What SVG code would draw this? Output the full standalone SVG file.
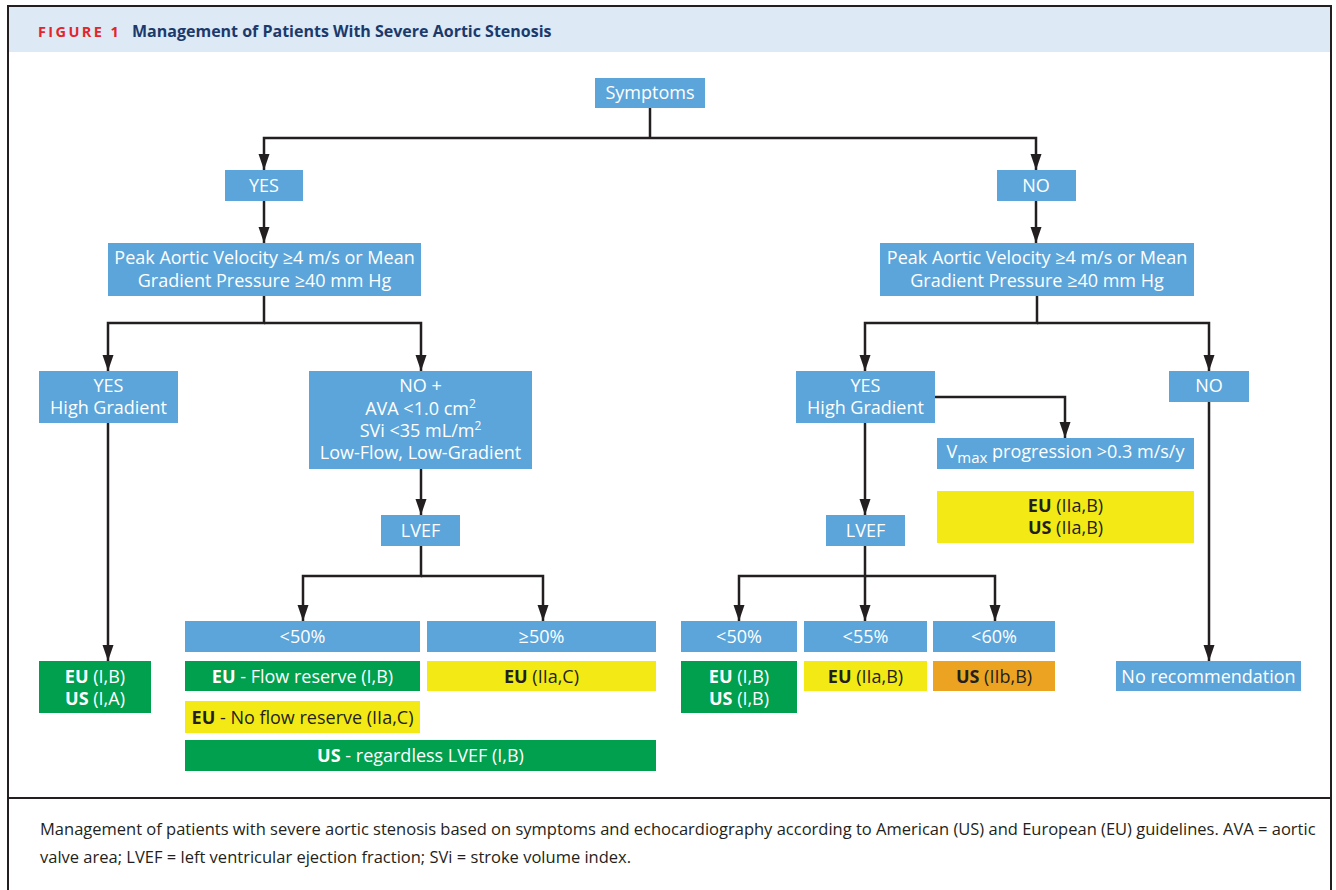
<svg xmlns="http://www.w3.org/2000/svg" width="1336" height="890" viewBox="0 0 1336 890">
<style>
.b{fill:#5ba5da}
.g{fill:#00a04e}
.y{fill:#f3ea15}
.o{fill:#eca322}
text{font-family:"Open Sans","Noto Sans","Liberation Sans",sans-serif;font-size:18px;text-anchor:middle}
.w{fill:#ffffff}
.d{fill:#231f20}
.bd{font-weight:bold}
.c{fill:none;stroke:#231f20;stroke-width:2.5}
</style>
<defs>
<marker id="ah" markerUnits="userSpaceOnUse" markerWidth="16" markerHeight="12" refX="16" refY="6" orient="auto" viewBox="0 0 16 12">
<path d="M0,0.5 L16,6 L0,11.5 z" fill="#231f20"/>
</marker>
</defs>
<g id="frame">
<rect x="9" y="7" width="1321" height="45" fill="#dde9f5"/>
<path d="M8,890 V6 H1331 V890" fill="none" stroke="#231f20" stroke-width="2"/>
<path d="M8,798 H1331" stroke="#231f20" stroke-width="2"/>
<text x="38" y="37" style="font-size:14.5px;font-weight:bold;fill:#e3242b;text-anchor:start;letter-spacing:2.4px">FIGURE 1</text>
<text x="132" y="37" style="font-size:16px;font-weight:bold;fill:#1b3a6b;text-anchor:start">Management of Patients With Severe Aortic Stenosis</text>
<text x="40" y="835" style="font-size:16.5px;fill:#231f20;text-anchor:start">Management of patients with severe aortic stenosis based on symptoms and echocardiography according to American (US) and European (EU) guidelines. AVA = aortic</text>
<text x="40" y="863" style="font-size:16.5px;fill:#231f20;text-anchor:start">valve area; LVEF = left ventricular ejection fraction; SVi = stroke volume index.</text>
</g>
<g id="connectors">
<path class="c" d="M650,108 V138"/>
<path class="c" d="M650,138 H264 V170" marker-end="url(#ah)"/>
<path class="c" d="M650,138 H1036 V170" marker-end="url(#ah)"/>
<path class="c" d="M264,201 V243" marker-end="url(#ah)"/>
<path class="c" d="M1036,201 V243" marker-end="url(#ah)"/>
<path class="c" d="M264,296 V323 H108 V371" marker-end="url(#ah)"/>
<path class="c" d="M264,323 H421 V371" marker-end="url(#ah)"/>
<path class="c" d="M108,423 V661" marker-end="url(#ah)"/>
<path class="c" d="M421,469 V515" marker-end="url(#ah)"/>
<path class="c" d="M421,546 V576 H303 V621" marker-end="url(#ah)"/>
<path class="c" d="M421,576 H543 V621" marker-end="url(#ah)"/>
<path class="c" d="M1037,296 V323 H865 V371" marker-end="url(#ah)"/>
<path class="c" d="M1037,323 H1209 V371" marker-end="url(#ah)"/>
<path class="c" d="M935,397 H1065 V438" marker-end="url(#ah)"/>
<path class="c" d="M865,423 V515" marker-end="url(#ah)"/>
<path class="c" d="M865,546 V576 H739 V621" marker-end="url(#ah)"/>
<path class="c" d="M865,576 V621" marker-end="url(#ah)"/>
<path class="c" d="M865,576 H995 V621" marker-end="url(#ah)"/>
<path class="c" d="M1209,402 V661" marker-end="url(#ah)"/>
</g>
<g id="symptoms"><rect class="b" x="595" y="78" width="110" height="30"/><text class="w" x="650" y="99">Symptoms</text></g>
<g id="yes"><rect class="b" x="225" y="170" width="78" height="31"/><text class="w" x="264" y="192">YES</text></g>
<g id="no"><rect class="b" x="997" y="170" width="79" height="31"/><text class="w" x="1036" y="192">NO</text></g>
<g id="peak-left"><rect class="b" x="108" y="243" width="313" height="53"/><text class="w" x="264.5" y="264">Peak Aortic Velocity ≥4 m/s or Mean</text><text class="w" x="264.5" y="287">Gradient Pressure ≥40 mm Hg</text></g>
<g id="peak-right"><rect class="b" x="880" y="243" width="314" height="53"/><text class="w" x="1037" y="264">Peak Aortic Velocity ≥4 m/s or Mean</text><text class="w" x="1037" y="287">Gradient Pressure ≥40 mm Hg</text></g>
<g id="yes-hg-left"><rect class="b" x="39" y="371" width="139" height="52"/><text class="w" x="108.5" y="392">YES</text><text class="w" x="108.5" y="414">High Gradient</text></g>
<g id="no-lflg"><rect class="b" x="309" y="371" width="223" height="98"/><text class="w" x="420.5" y="392">NO +</text><text class="w" x="420.5" y="415">AVA &lt;1.0 cm<tspan dy="-7" style="font-size:12px">2</tspan></text><text class="w" x="420.5" y="437">SVi &lt;35 mL/m<tspan dy="-7" style="font-size:12px">2</tspan></text><text class="w" x="420.5" y="459">Low-Flow, Low-Gradient</text></g>
<g id="lvef-left"><rect class="b" x="381" y="515" width="79" height="31"/><text class="w" x="420.5" y="537">LVEF</text></g>
<g id="lt50-left"><rect class="b" x="185" y="621" width="235" height="31"/><text class="w" x="302.5" y="643">&lt;50%</text></g>
<g id="ge50-left"><rect class="b" x="427" y="621" width="229" height="31"/><text class="w" x="541.5" y="643">≥50%</text></g>
<g id="rec-left-hg"><rect class="g" x="39" y="661" width="112" height="52"/><text class="w" x="95" y="683"><tspan class="bd">EU</tspan> (I,B)</text><text class="w" x="95" y="705"><tspan class="bd">US</tspan> (I,A)</text></g>
<g id="rec-flow-reserve"><rect class="g" x="185" y="661" width="235" height="30"/><text class="w" x="302.5" y="683"><tspan class="bd">EU</tspan> - Flow reserve (I,B)</text></g>
<g id="rec-ge50-left"><rect class="y" x="427" y="661" width="229" height="30"/><text class="d" x="541.5" y="683"><tspan class="bd">EU</tspan> (IIa,C)</text></g>
<g id="rec-no-flow-reserve"><rect class="y" x="185" y="701" width="235" height="32"/><text class="d" x="302.5" y="724"><tspan class="bd">EU</tspan> - No flow reserve (IIa,C)</text></g>
<g id="rec-us-regardless"><rect class="g" x="185" y="740" width="471" height="31"/><text class="w" x="420.5" y="762"><tspan class="bd">US</tspan> - regardless LVEF (I,B)</text></g>
<g id="yes-hg-right"><rect class="b" x="796" y="371" width="139" height="52"/><text class="w" x="865.5" y="392">YES</text><text class="w" x="865.5" y="414">High Gradient</text></g>
<g id="no-right"><rect class="b" x="1169" y="371" width="80" height="31"/><text class="w" x="1209" y="392">NO</text></g>
<g id="vmax"><rect class="b" x="937" y="438" width="257" height="31"/><text class="w" x="1065.5" y="458">V<tspan dy="5" style="font-size:15px">max</tspan><tspan dy="-5"> progression &gt;0.3 m/s/y</tspan></text></g>
<g id="rec-vmax"><rect class="y" x="937" y="491" width="257" height="52"/><text class="d" x="1065.5" y="512"><tspan class="bd">EU</tspan> (IIa,B)</text><text class="d" x="1065.5" y="534"><tspan class="bd">US</tspan> (IIa,B)</text></g>
<g id="lvef-right"><rect class="b" x="826" y="515" width="79" height="31"/><text class="w" x="865.5" y="537">LVEF</text></g>
<g id="lt50-right"><rect class="b" x="681" y="621" width="116" height="31"/><text class="w" x="739" y="643">&lt;50%</text></g>
<g id="lt55-right"><rect class="b" x="804" y="621" width="123" height="31"/><text class="w" x="865.5" y="643">&lt;55%</text></g>
<g id="lt60-right"><rect class="b" x="933" y="621" width="122" height="31"/><text class="w" x="994" y="643">&lt;60%</text></g>
<g id="rec-lt50-right"><rect class="g" x="681" y="661" width="116" height="52"/><text class="w" x="739" y="683"><tspan class="bd">EU</tspan> (I,B)</text><text class="w" x="739" y="705"><tspan class="bd">US</tspan> (I,B)</text></g>
<g id="rec-lt55-right"><rect class="y" x="804" y="661" width="123" height="30"/><text class="d" x="865.5" y="683"><tspan class="bd">EU</tspan> (IIa,B)</text></g>
<g id="rec-lt60-right"><rect class="o" x="933" y="661" width="122" height="30"/><text class="d" x="994" y="683"><tspan class="bd">US</tspan> (IIb,B)</text></g>
<g id="no-recommendation"><rect class="b" x="1116" y="661" width="185" height="30"/><text class="w" x="1208.5" y="683">No recommendation</text></g>
</svg>
